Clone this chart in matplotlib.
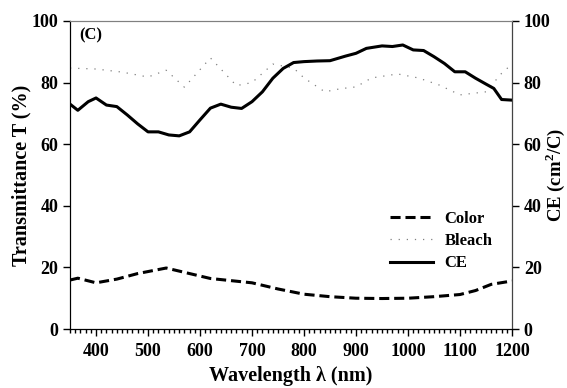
import matplotlib

matplotlib.use("Agg")
import matplotlib.pyplot as plt
from matplotlib.ticker import MultipleLocator

plt.rcParams["font.family"] = ["Liberation Serif", "DejaVu Serif"]
plt.rcParams["font.weight"] = "bold"
plt.rcParams["mathtext.fontset"] = "custom"
plt.rcParams["mathtext.bf"] = "Liberation Serif:bold"
plt.rcParams["mathtext.rm"] = "Liberation Serif:bold"

# Color (dashed) transmittance
color_wl = [350, 365, 400, 440, 480, 535, 580, 620, 700, 750, 800, 850, 900, 950, 1000, 1050, 1100, 1130, 1160, 1200]
color_t = [15.9, 16.5, 15.0, 16.2, 18.0, 19.8, 18.0, 16.4, 15.0, 13.0, 11.3, 10.5, 10.0, 9.9, 10.0, 10.5, 11.2, 12.5, 14.5, 15.6]

# Bleach (dotted) transmittance
bleach_wl = [350, 400, 450, 500, 535, 570, 620, 670, 700, 740, 780, 800, 840, 870, 900, 930, 980, 1020, 1060, 1100, 1150, 1180, 1200]
bleach_t = [84.7, 84.4, 83.4, 81.8, 84.0, 78.5, 88.0, 79.0, 80.0, 86.0, 84.7, 81.5, 77.0, 78.0, 78.6, 81.5, 82.8, 81.5, 79.2, 76.0, 77.0, 83.0, 86.0]

# Coloration efficiency (solid), right axis
ce_wl = [350, 365, 385, 400, 420, 440, 460, 480, 500, 520, 540, 560, 580, 600, 620, 640, 660, 680, 700, 720,
         740, 760, 780, 800, 825, 850, 880, 900, 920, 950, 970, 990, 1010, 1030, 1050, 1070, 1090, 1110, 1130,
         1150, 1165, 1180, 1200]
ce_val = [73.0, 71.0, 73.8, 75.0, 72.7, 72.2, 69.5, 66.6, 64.0, 64.0, 63.0, 62.7, 64.0, 67.9, 71.7, 73.0, 72.0, 71.6, 73.8, 77.0,
          81.4, 84.6, 86.5, 86.8, 87.0, 87.1, 88.6, 89.5, 91.1, 91.9, 91.7, 92.2, 90.6, 90.4, 88.4, 86.2, 83.5, 83.5, 81.4,
          79.5, 78.1, 74.5, 74.3]

fig = plt.figure(figsize=(5.67, 3.88), dpi=100)
ax = fig.add_axes([0.1235, 0.152, 0.7795, 0.794])
ax2 = ax.twinx()

l1, = ax.plot(color_wl, color_t, color="black", lw=2.2, ls=(0, (3.3, 1.6)), label="Color")
l2, = ax.plot(bleach_wl, bleach_t, color="gray", lw=0.9, ls=(0, (1, 5.5)), label="Bleach")
l3, = ax2.plot(ce_wl, ce_val, color="black", lw=2.2, label="CE")

ax.set_xlim(350, 1200)
ax.set_ylim(0, 100)
ax2.set_ylim(0, 100)
ax.xaxis.set_major_locator(MultipleLocator(100))
ax.xaxis.set_minor_locator(MultipleLocator(10))
ax.yaxis.set_major_locator(MultipleLocator(20))
ax2.yaxis.set_major_locator(MultipleLocator(20))

for a in (ax, ax2):
    a.tick_params(which="major", direction="out", length=5, width=1, labelsize=13)
    a.tick_params(which="minor", direction="out", length=3, width=1)
ax.tick_params(axis="x", pad=5)
for lab in ax.get_xticklabels() + ax.get_yticklabels() + ax2.get_yticklabels():
    lab.set_fontweight("bold")

ax.spines["top"].set_color("gray")
ax2.spines["top"].set_color("gray")
ax2.spines["right"].set_color("#444444")

ax.set_xlabel("Wavelength λ (nm)", fontsize=14.5, fontweight="bold", labelpad=4.5)
ax.set_ylabel("Transmittance T (%)", fontsize=14.5, fontweight="bold")
ax.yaxis.set_label_coords(-0.088, 0.5)
ax2.set_ylabel("CE (cm$^{2}$/C)", fontsize=13.5, fontweight="bold")
ax2.yaxis.set_label_coords(1.071, 0.5)
ax.text(0.022, 0.98, "(C)", transform=ax.transAxes, fontsize=12, fontweight="bold", va="top")

leg = ax.legend(handles=[l1, l2, l3], loc="upper left", bbox_to_anchor=(0.724, 0.384),
                frameon=False, fontsize=12, handlelength=2.6, labelspacing=0.38,
                handletextpad=0.66, borderpad=0, borderaxespad=0)
for t in leg.get_texts():
    t.set_fontweight("bold")

fig.savefig("out.png", dpi=100)
